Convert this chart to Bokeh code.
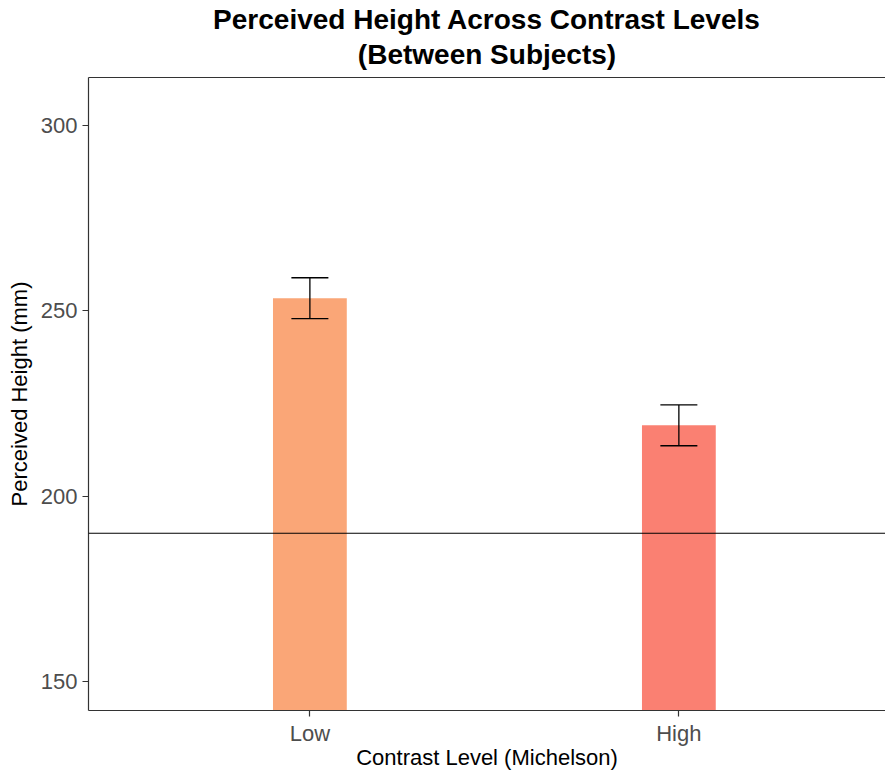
from bokeh.plotting import figure
from bokeh.models import (ColumnDataSource, Range1d, FixedTicker, LinearAxis,
                          Whisker, TeeHead, Span, Title)
from bokeh.embed import file_html
from bokeh.resources import INLINE

# Group means and standard errors of perceived height (mm)
categories = ["Low", "High"]
mean_height = [253.4, 219.1]
se_height = [5.5, 5.5]
bar_colors = ["#FAA677", "#FA8072"]
reference_height = 190
y_ticks = [150, 200, 250, 300]
title_lines = ["Perceived Height Across Contrast Levels", "(Between Subjects)"]

xpos = [i + 1 for i in range(len(categories))]
source = ColumnDataSource(dict(
    x=xpos,
    mean=mean_height,
    lower=[m - s for m, s in zip(mean_height, se_height)],
    upper=[m + s for m, s in zip(mean_height, se_height)],
    color=bar_colors,
))

FONT = "Liberation Sans"

p = figure(width=885, height=773, title=None,
           x_range=Range1d(0.4, 2.56), y_range=Range1d(142.2, 312.9),
           output_backend="svg", toolbar_location=None,
           min_border_left=88, min_border_right=0,
           min_border_top=77, min_border_bottom=63)

p.outline_line_color = None
p.xgrid.visible = False
p.ygrid.visible = False
p.background_fill_color = "white"
p.border_fill_color = "white"

# Bars
p.vbar(x="x", top="mean", bottom=0, width=0.2, source=source,
       fill_color="color", line_color=None)

# Error bars
p.add_layout(Whisker(base="x", lower="lower", upper="upper", source=source,
                     level="overlay", line_color="black", line_width=1.3,
                     upper_head=TeeHead(size=37, line_color="black", line_width=1.3),
                     lower_head=TeeHead(size=37, line_color="black", line_width=1.3)))

# Reference line
p.add_layout(Span(location=reference_height, dimension="width",
                  line_color="black", line_width=1.2))

# Axes
axis_color = "#333333"
label_color = "#4D4D4D"

xa = p.xaxis[0]
xa.ticker = FixedTicker(ticks=xpos)
xa.major_label_overrides = {x: c for x, c in zip(xpos, categories)}
xa.axis_label = "Contrast Level (Michelson)"

ya = p.yaxis[0]
ya.ticker = FixedTicker(ticks=y_ticks)
ya.axis_label = "Perceived Height (mm)"

for ax in (xa, ya):
    ax.axis_line_color = axis_color
    ax.axis_line_width = 1.2
    ax.major_tick_line_color = axis_color
    ax.major_tick_line_width = 1.2
    ax.major_tick_out = 6
    ax.major_tick_in = 0
    ax.minor_tick_line_color = None
    ax.major_label_text_font = FONT
    ax.major_label_text_font_size = "22px"
    ax.major_label_text_color = label_color
    ax.axis_label_text_font = FONT
    ax.axis_label_text_font_size = "22px"
    ax.axis_label_text_font_style = "normal"
    ax.axis_label_text_color = "black"

xa.major_label_standoff = 4
xa.axis_label_standoff = -4
ya.major_label_standoff = 5
ya.axis_label_standoff = 6

# Top border of the panel
top = LinearAxis(ticker=FixedTicker(ticks=[]), axis_line_color=axis_color,
                 axis_line_width=1.2, major_tick_line_color=None,
                 minor_tick_line_color=None, major_label_text_font_size="0px")
p.add_layout(top, "above")

# Two-line title, each line centred; later additions sit further up
for i, line in enumerate(reversed(title_lines)):
    p.add_layout(Title(text=line, align="center", text_font=FONT,
                       text_font_style="bold", text_font_size="28px",
                       text_color="black", offset=0,
                       text_line_height=1.0 if i == 0 else 0.8,
                       standoff=16 if i == 0 else -12), "above")

open("out.html", "w").write(file_html(p, INLINE))
